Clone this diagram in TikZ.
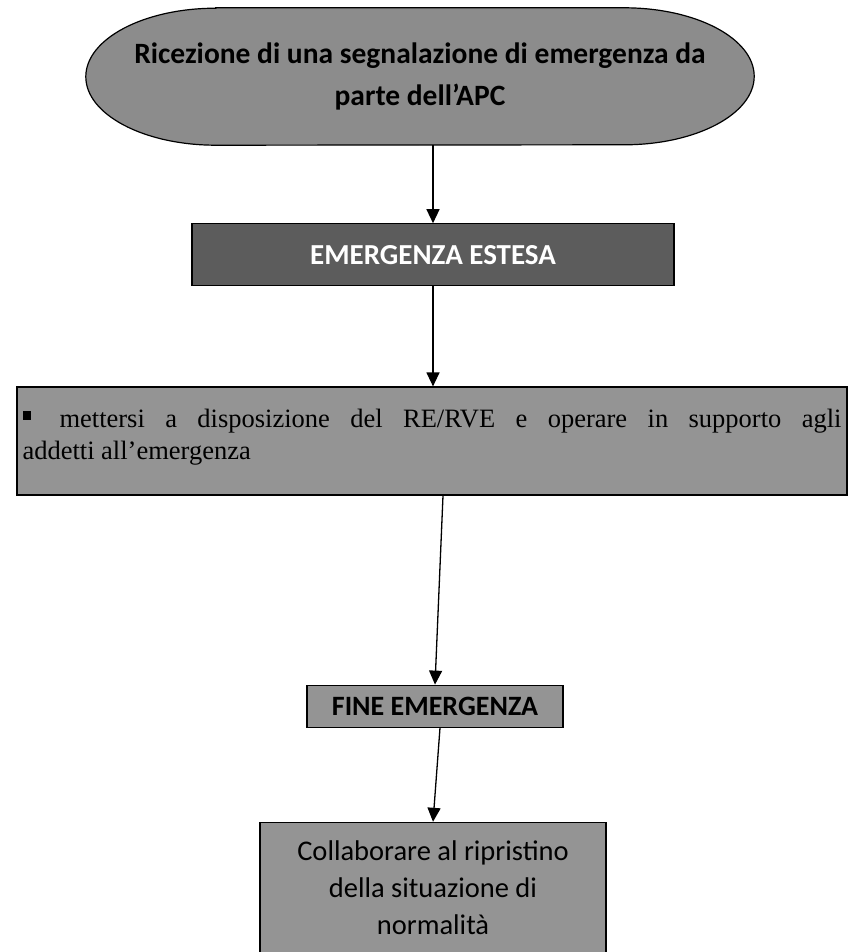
\documentclass[tikz,border=0pt]{standalone}
\usepackage{fontspec}
\setmainfont{Carlito}
\newfontfamily\bodyserif{Liberation Serif}
\usetikzlibrary{arrows.meta, positioning, backgrounds}
\definecolor{ovalfill}{gray}{0.55}
\definecolor{darkfill}{gray}{0.36}
\definecolor{boxfill}{gray}{0.58}

\begin{document}
\begin{tikzpicture}[
    every node/.style={font=\fontsize{28.5}{37}\selectfont},
    oval/.style={minimum width=668pt, minimum height=137pt, align=center, font=\fontsize{29.5}{42}\selectfont\bfseries},
    ovalline/.style={draw=black, line width=1.2pt, fill=ovalfill},
    box/.style={draw=black, line width=1.2pt, fill=boxfill},
    darkbox/.style={box, fill=darkfill, text=white, minimum width=482pt, minimum height=62pt, font=\fontsize{29}{32}\selectfont\bfseries},
    listbox/.style={box, text width=819pt, inner xsep=5.5pt, minimum height=108pt, align=justify, font=\bodyserif\fontsize{26.5}{32}\selectfont},
    endbox/.style={box, minimum width=256pt, minimum height=42pt, font=\fontsize{28}{30}\selectfont\bfseries},
    normbox/.style={box, minimum width=346pt, minimum height=130pt, align=center},
    arr/.style={-{Triangle[length=14pt, width=13pt]}, line width=1.3pt}
]
    \useasboundingbox (0,0) rectangle (849pt,-952pt);

    \node[oval] (start) at (420pt,-76.5pt) {Ricezione di una segnalazione di emergenza da\\parte dell’APC};
    \node[darkbox, below=78pt of start, xshift=13pt] (est) {EMERGENZA ESTESA};
    \node[listbox, below=100pt of est, xshift=-1pt] (act) {\hangindent=37pt\hangafter=1\noindent\makebox[37pt][l]{\rule[7pt]{9pt}{9pt}}mettersi a disposizione del RE/RVE e operare in supporto agli\linebreak addetti all’emergenza\vspace{8pt}};
    \node[endbox, below=189pt of act, xshift=3pt] (fine) {FINE EMERGENZA};
    \node[normbox, below=94pt of fine, xshift=-2pt] (norm) {Collaborare al ripristino\\della situazione di\\normalità};

    \begin{scope}[on background layer]
        \draw[ovalline] ([xshift=130pt]start.north west) -- ([xshift=-130pt]start.north east)
            arc[start angle=90, end angle=-90, x radius=130pt, y radius=68.5pt]
            -- ([xshift=130pt]start.south west)
            arc[start angle=270, end angle=90, x radius=130pt, y radius=68.5pt] -- cycle;
    \end{scope}

    \draw[arr] (start.south -| est.north) -- (est.north);
    \draw[arr] (est.south) -- (est.south |- act.north);
    \draw[arr] ([xshift=11pt]act.south) -- (fine.north);
    \draw[arr] ([xshift=5pt]fine.south) -- (norm.north);
\end{tikzpicture}
\end{document}
